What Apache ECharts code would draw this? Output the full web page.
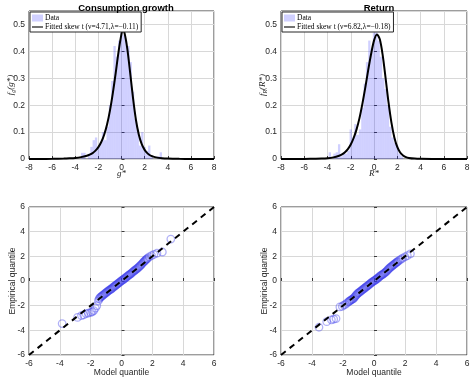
<!DOCTYPE html>
<html><head><meta charset="utf-8">
<script src="https://cdn.jsdelivr.net/npm/echarts@6/dist/echarts.min.js"></script>
<style>html,body{margin:0;padding:0;background:#fff}#c{width:474px;height:378px}</style>
</head><body><div id="c"></div>
<script>
// ---- Data ----
const histBinWidth = 0.2;
const consHistX = [-3.4,-3.2,-3.0,-2.8,-2.6,-2.4,-2.2,-2.0,-1.8,-1.6,-1.4,-1.2,-1.0,-0.8,-0.6,-0.4,-0.2,0.0,0.2,0.4,0.6,0.8,1.0,1.2,1.4,1.6,1.8,2.0,2.2,2.4,2.6,2.8,3.0,3.2,3.4];
const consHistY = [0.023,0.023,0.0,0.02,0.045,0.07,0.08,0.045,0.06,0.10,0.07,0.12,0.20,0.29,0.42,0.38,0.44,0.49,0.46,0.44,0.42,0.36,0.25,0.15,0.11,0.05,0.10,0.045,0.03,0.05,0.01,0.0,0.0,0.01,0.025];
const retHistX = [-3.8,-3.6,-3.4,-3.2,-3.0,-2.8,-2.6,-2.4,-2.2,-2.0,-1.8,-1.6,-1.4,-1.2,-1.0,-0.8,-0.6,-0.4,-0.2,0.0,0.2,0.4,0.6,0.8,1.0,1.2,1.4,1.6,1.8,2.0,2.2,2.4];
const retHistY = [0.025,0.0,0.02,0.025,0.055,0.01,0.02,0.02,0.03,0.11,0.08,0.13,0.09,0.11,0.19,0.28,0.36,0.44,0.41,0.47,0.47,0.44,0.38,0.30,0.26,0.20,0.12,0.08,0.06,0.05,0.02,0.01];

const consFitX = [-8,-7,-6,-5,-4.5,-4,-3.5,-3,-2.75,-2.5,-2.25,-2,-1.75,-1.5,-1.25,-1,-0.75,-0.5,-0.25,0,0.1,0.25,0.5,0.75,1,1.25,1.5,1.75,2,2.25,2.5,2.75,3,3.5,4,5,6,8];
const consFitY = [0.0002,0.0003,0.0006,0.0015,0.0025,0.004,0.007,0.012,0.016,0.022,0.031,0.044,0.063,0.09,0.128,0.18,0.245,0.32,0.40,0.465,0.478,0.47,0.41,0.32,0.225,0.145,0.09,0.055,0.034,0.021,0.013,0.009,0.006,0.003,0.0016,0.0006,0.0003,0.0001];
const retFitX = [-8,-6,-5,-4.5,-4,-3.5,-3,-2.75,-2.5,-2.25,-2,-1.75,-1.5,-1.25,-1,-0.75,-0.5,-0.25,0,0.25,0.5,0.75,1,1.25,1.5,1.75,2,2.25,2.5,2.75,3,3.5,4,5,8];
const retFitY = [0.0001,0.0003,0.0008,0.0015,0.003,0.006,0.012,0.017,0.025,0.037,0.054,0.078,0.11,0.152,0.205,0.265,0.33,0.39,0.44,0.463,0.445,0.385,0.30,0.21,0.135,0.08,0.045,0.024,0.013,0.007,0.004,0.0015,0.0006,0.0002,0.0];

const consQQModel = [-3.85,-2.85,-2.6,-2.45,-2.3,-2.15,-2.0,-1.9,-1.8,-1.7,-1.6,-1.5,-1.45,-1.4,-1.35,-1.3,-1.25,-1.2,-1.15,-1.1,-1.05,-1.0,-0.95,-0.9,-0.85,-0.8,-0.75,-0.7,-0.65,-0.6,-0.55,-0.5,-0.45,-0.4,-0.35,-0.3,-0.25,-0.2,-0.15,-0.1,-0.05,0.0,0.05,0.1,0.15,0.2,0.25,0.3,0.35,0.4,0.45,0.5,0.55,0.6,0.65,0.7,0.75,0.8,0.85,0.9,0.95,1.0,1.05,1.1,1.15,1.2,1.25,1.3,1.35,1.4,1.45,1.5,1.55,1.6,1.65,1.7,1.8,1.95,2.1,2.3,2.65,3.2];
const consQQEmp   = [-3.45,-2.95,-2.8,-2.75,-2.65,-2.6,-2.55,-2.5,-2.4,-2.2,-2.0,-1.6,-1.45,-1.35,-1.3,-1.25,-1.2,-1.15,-1.1,-1.05,-1.0,-0.95,-0.9,-0.85,-0.8,-0.75,-0.71,-0.68,-0.63,-0.58,-0.52,-0.47,-0.42,-0.38,-0.33,-0.28,-0.23,-0.18,-0.13,-0.08,-0.03,0.02,0.06,0.1,0.15,0.2,0.25,0.3,0.35,0.4,0.45,0.5,0.54,0.58,0.64,0.7,0.75,0.8,0.85,0.9,0.95,1.0,1.05,1.1,1.16,1.22,1.28,1.35,1.42,1.5,1.56,1.62,1.68,1.75,1.8,1.85,1.95,2.05,2.15,2.25,2.35,3.4];
const retQQModel = [-3.55,-3.05,-2.75,-2.6,-2.45,-2.2,-2.05,-1.95,-1.85,-1.75,-1.65,-1.6,-1.55,-1.5,-1.45,-1.4,-1.35,-1.3,-1.25,-1.2,-1.15,-1.1,-1.05,-1.0,-0.95,-0.9,-0.85,-0.8,-0.75,-0.7,-0.65,-0.6,-0.55,-0.5,-0.45,-0.4,-0.35,-0.3,-0.25,-0.2,-0.15,-0.1,-0.05,0.0,0.05,0.1,0.15,0.2,0.25,0.3,0.35,0.4,0.45,0.5,0.55,0.6,0.65,0.7,0.75,0.8,0.85,0.9,0.95,1.0,1.05,1.1,1.15,1.2,1.25,1.3,1.35,1.4,1.45,1.5,1.55,1.65,1.75,1.85,2.0,2.15,2.35];
const retQQEmp   = [-3.75,-3.3,-3.15,-3.1,-3.05,-2.1,-2.05,-1.95,-1.9,-1.8,-1.7,-1.65,-1.6,-1.56,-1.52,-1.48,-1.45,-1.38,-1.3,-1.22,-1.15,-1.08,-1.0,-0.96,-0.92,-0.87,-0.82,-0.77,-0.72,-0.67,-0.62,-0.57,-0.52,-0.47,-0.42,-0.37,-0.33,-0.27,-0.22,-0.17,-0.12,-0.07,-0.03,0.01,0.05,0.1,0.14,0.19,0.24,0.3,0.35,0.4,0.45,0.49,0.52,0.57,0.62,0.67,0.72,0.78,0.85,0.92,0.98,1.04,1.1,1.15,1.2,1.25,1.3,1.35,1.4,1.45,1.5,1.55,1.6,1.7,1.78,1.85,1.95,2.05,2.2];
const refLine = [[-6,-6],[6,6]];

const consFitName = 'Fitted skew t (\u03bd=4.71,\u03bb=\u22120.11)';
const retFitName = 'Fitted skew t (\u03bd=6.82,\u03bb=\u22120.18)';

// ---- Build ----
const zip = (a,b)=>a.map((v,i)=>[v,b[i]]);
const sans = 'Liberation Sans, Arial, sans-serif';
const serif = 'Liberation Serif, DejaVu Serif, serif';
const grids = [
  {left:29, top:11, width:185, height:148},
  {left:281, top:11, width:186, height:148},
  {left:29, top:207, width:185, height:149},
  {left:281, top:207, width:186, height:149}
].map(g=>Object.assign(g,{show:true, borderColor:'#3a3a3a', borderWidth:1, backgroundColor:'#fff'}));

function axisCommon(){
  return {
    axisLine:{show:false},
    axisTick:{show:true, inside:true, length:3, lineStyle:{color:'#3a3a3a'}},
    splitLine:{show:true, lineStyle:{color:'#d8d8d8', width:1}},
    axisLabel:{color:'#262626', fontFamily:sans, fontSize:8.5, margin:4},
    nameMoveOverlap:false
  };
}
const richName = {
  i:{fontFamily:serif, fontStyle:'italic', fontSize:9, color:'#262626'},
  sub:{fontFamily:serif, fontStyle:'italic', fontSize:6, color:'#262626', verticalAlign:'bottom', padding:[5,0,0,0]}
};
const xAxes = [0,1].map(i=>Object.assign(axisCommon(),{
  type:'value', gridIndex:i, min:-8, max:8, interval:2,
  name: i===0?'{i|g*}':'{i|R*}', nameLocation:'middle', nameGap:10,
  nameTextStyle:{rich:richName}
})).concat([2,3].map(i=>Object.assign(axisCommon(),{
  type:'value', gridIndex:i, min:-6, max:6, interval:2,
  name:'Model quantile', nameLocation:'middle', nameGap:13,
  nameTextStyle:{fontFamily:sans, fontSize:8.5, color:'#262626'}
})));
const yAxes = [0,1].map(i=>{
  const a = Object.assign(axisCommon(),{
    type:'value', gridIndex:i, min:0, max:0.55, interval:0.1,
    name: i===0?'{i|f}{sub|g}{i|(g*)}':'{i|f}{sub|R}{i|(R*)}', nameLocation:'middle', nameGap:13,
    nameTextStyle:{rich:richName}
  });
  a.axisLabel = Object.assign(a.axisLabel,{showMaxLabel:false, formatter:v=>v===0?'0':String(+v.toFixed(1))});
  return a;
}).concat([2,3].map(i=>Object.assign(axisCommon(),{
  type:'value', gridIndex:i, min:-6, max:6, interval:2,
  name:'Empirical quantile', nameLocation:'middle', nameGap:12,
  nameTextStyle:{fontFamily:sans, fontSize:8.5, color:'#262626'}
})));

function histSeries(idx, xs, ys){
  return {
    type:'custom', name:'Data', xAxisIndex:idx, yAxisIndex:idx,
    data: zip(xs,ys), itemStyle:{color:'rgba(40,40,255,0.22)'},
    renderItem:(params, api)=>{
      const x = api.value(0), h = api.value(1);
      const p0 = api.coord([x-histBinWidth/2, h]);
      const p1 = api.coord([x+histBinWidth/2, 0]);
      return {type:'rect', shape:{x:p0[0], y:p0[1], width:p1[0]-p0[0], height:p1[1]-p0[1]},
              style:{fill:'rgba(40,40,255,0.22)'}};
    },
    z:2
  };
}
function fitSeries(idx, name, xs, ys){
  return {type:'line', name, xAxisIndex:idx, yAxisIndex:idx, data:zip(xs,ys), smooth:0.3,
    showSymbol:false, symbol:'none', lineStyle:{color:'#000', width:2}, itemStyle:{color:'#000'}, z:3};
}
function qqSeries(idx, xs, ys){
  return {type:'scatter', xAxisIndex:idx, yAxisIndex:idx, data:zip(xs,ys), symbol:'circle', symbolSize:7.5,
    itemStyle:{color:'rgba(0,0,0,0)', borderColor:'rgba(60,60,235,0.5)', borderWidth:1.3}, z:2};
}
function refSeries(idx){
  return {type:'line', xAxisIndex:idx, yAxisIndex:idx, data:refLine, symbol:'none',
    lineStyle:{color:'#000', width:2, type:[6,5]}, z:3};
}
function legend(left, fitName){
  return {left, top:12, orient:'vertical', itemGap:1, padding:[2,3,1,2],
    backgroundColor:'#fff', borderColor:'#262626', borderWidth:1,
    itemWidth:11, itemHeight:7,
    textStyle:{fontFamily:serif, fontSize:7.5, color:'#000', padding:[0,0,0,-3]},
    data:[{name:'Data', icon:'rect'}, {name:fitName, icon:'path://M0,4 L20,4 L20,6 L0,6 Z'}],
    selectedMode:false};
}
const option = {
  animation:false,
  title:[
    {text:'Consumption growth', left:121, top:-2, textAlign:'center', textStyle:{fontFamily:sans, fontSize:9.5, fontWeight:'bold', color:'#000'}},
    {text:'Return', left:374, top:-2, textAlign:'center', textStyle:{fontFamily:sans, fontSize:9.5, fontWeight:'bold', color:'#000'}}
  ],
  legend:[legend(30, consFitName), legend(282, retFitName)],
  grid:grids, xAxis:xAxes, yAxis:yAxes,
  series:[
    histSeries(0, consHistX, consHistY), fitSeries(0, consFitName, consFitX, consFitY),
    histSeries(1, retHistX, retHistY), fitSeries(1, retFitName, retFitX, retFitY),
    qqSeries(2, consQQModel, consQQEmp), refSeries(2),
    qqSeries(3, retQQModel, retQQEmp), refSeries(3)
  ]
};
const chart = echarts.init(document.getElementById('c'), null, {renderer:'canvas'});
chart.setOption(option);
</script></body></html>
